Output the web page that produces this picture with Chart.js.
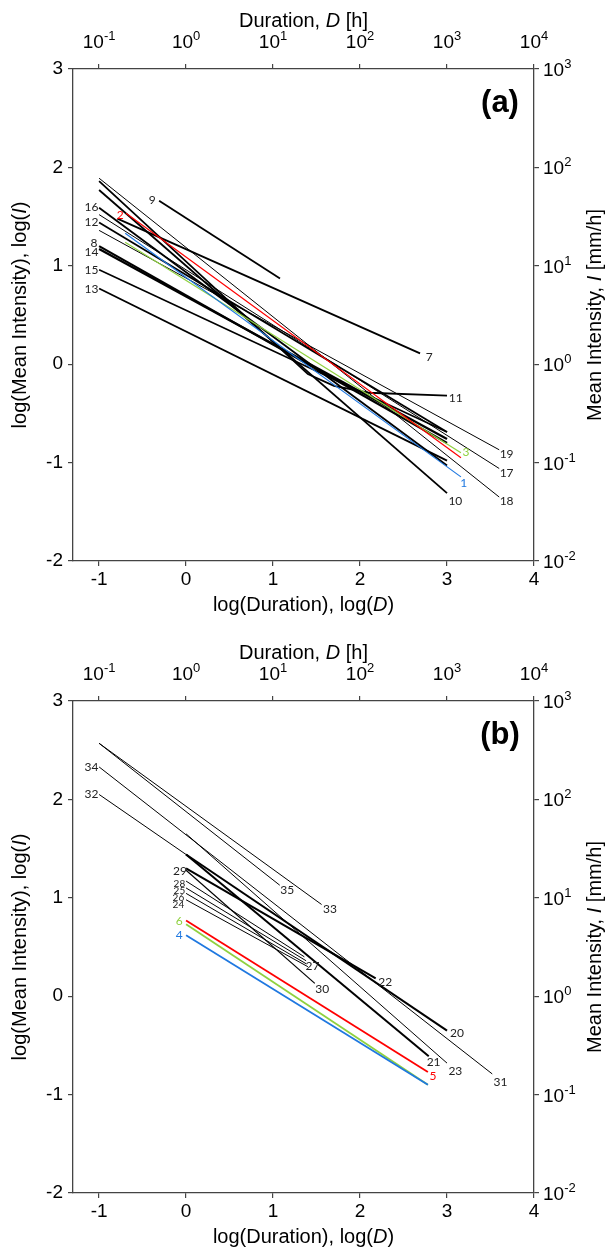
<!DOCTYPE html>
<html>
<head>
<meta charset="utf-8">
<script src="https://cdn.jsdelivr.net/npm/chart.js@4.4.1/dist/chart.umd.min.js"></script>
<style>
  body { margin: 0; background: #fff; }
  canvas { display: block; }
</style>
</head>
<body>
<canvas id="chartA" width="609" height="632"></canvas>
<canvas id="chartB" width="609" height="619"></canvas>
<script>
// tick values, in log10 units (same on both panels)
const xTicks = [-1, 0, 1, 2, 3, 4];
const yTicks = [-2, -1, 0, 1, 2, 3];

// panel (a): each line = log(D) and log(I) at its end points
const aNames = ["1", "2", "3", "7", "8", "9", "10", "11", "12", "13", "14", "15", "16", "17", "18", "19"];
const aX = [[-0.70, 3.16], [-0.69, 3.16], [-0.70, 3.16], [-0.79, 2.69], [-1, 3.0], [-0.31, 1.08],
            [-1, 3.0], [-1, 1.4, 1.7, 2.1, 3.0], [-1, 3.0], [-1, 3.0], [-1, 3.0], [-1, 3.0],
            [-1, 3.0], [-1, 3.6], [-1, 3.6], [-1, 3.6]];
const aY = [[1.33, -1.145], [1.535, -0.95], [1.24, -0.90], [1.48, 0.11], [1.20, -0.80], [1.66, 0.87],
            [1.77, -1.31], [1.86, -0.10, -0.22, -0.29, -0.32], [1.44, -0.69], [0.77, -0.98], [1.17, -0.76], [0.96, -0.69],
            [1.59, -1.03], [1.52, -1.06], [1.89, -1.35], [1.36, -0.87]];
// line number tags of panel (a)
const aTags = ["16", "12", "8", "14", "15", "13", "9", "2", "7", "11", "19", "3", "17", "1", "18", "10"];
const aTagX = [-1.087, -1.087, -1.058, -1.087, -1.087, -1.087, -0.388, -0.758, 2.796, 3.10, 3.685, 3.217, 3.685, 3.193, 3.685, 3.096];
const aTagY = [1.594, 1.441, 1.233, 1.136, 0.958, 0.765, 1.665, 1.518, 0.073, -0.344, -0.914, -0.898, -1.107, -1.209, -1.392, -1.392];

// panel (b)
const bNames = ["4", "5", "6", "20", "21", "22", "23", "24", "25", "26", "28", "30", "31", "32", "33", "35"];
const bX = [[0, 2.78], [0, 2.78], [0, 2.78], [0, 3.0], [0, 2.79], [0, 2.18], [0, 3.0], [0, 1.40],
            [0, 1.38], [0, 1.38], [0, 1.36], [0, 1.48], [-1, 3.52], [-1, 0], [-1, 1.558], [-1, 1.077]];
const bY = [[0.62, -0.90], [0.77, -0.77], [0.73, -0.90], [1.44, -0.35], [1.44, -0.61], [1.30, 0.18], [1.65, -0.68], [0.98, 0.30],
            [1.10, 0.36], [1.045, 0.33], [1.17, 0.40], [1.28, 0.13], [2.33, -0.79], [2.05, 1.44], [2.57, 0.932], [2.57, 1.128]];
const bTags = ["34", "32", "29", "28", "25", "26", "24", "6", "4", "35", "33", "27", "30", "22", "20", "21", "23", "31", "5"];
const bTagX = [-1.087, -1.087, -0.071, -0.077, -0.077, -0.088, -0.088, -0.08, -0.08, 1.163, 1.654, 1.453, 1.565, 2.29, 3.115, 2.846, 3.096, 3.615, 2.84];
const bTagY = [2.33, 2.054, 1.27, 1.14, 1.067, 1.0, 0.925, 0.76, 0.62, 1.075, 0.88, 0.305, 0.076, 0.14, -0.38, -0.67, -0.76, -0.87, -0.81];

// styles
const BLUE = "#1f78e0", RED = "#ff0000", GREEN = "#8fd13f";
const aColors = [BLUE, RED, GREEN].concat(Array(13).fill("#000"));
const aWidths = [1.2, 1.2, 1.2, 1.8, 2.2, 1.8, 1.8, 1.8, 1.8, 1.8, 2.2, 1.6, 1.8, 1, 1, 1];
const aTagColors = aTags.map(t => t === "1" ? BLUE : t === "2" ? RED : t === "3" ? GREEN : "#222");
const bColors = [BLUE, RED, GREEN].concat(Array(13).fill("#000"));
const bWidths = [1.8, 1.8, 1.8, 2, 2, 2, 1, 1, 1, 1, 1, 1.2, 1, 1, 1, 1];
const bTagColors = bTags.map(t => t === "4" ? BLUE : t === "5" ? RED : t === "6" ? GREEN : "#222");
const bTagSmall = ["28", "25", "26", "24"];
const FONT = '"Liberation Sans", Arial, sans-serif';

function richText(ctx, parts, cx, cy, rot) {
  ctx.save();
  ctx.translate(cx, cy);
  ctx.rotate(rot);
  ctx.fillStyle = "#000";
  ctx.textBaseline = "middle";
  ctx.textAlign = "left";
  let w = 0;
  parts.forEach(p => { ctx.font = (p[1] ? "italic " : "") + "20px " + FONT; w += ctx.measureText(p[0]).width; });
  let x = -w / 2;
  parts.forEach(p => {
    ctx.font = (p[1] ? "italic " : "") + "20px " + FONT;
    ctx.fillText(p[0], x, 0);
    x += ctx.measureText(p[0]).width;
  });
  ctx.restore();
}

function power(ctx, exp, x, y, align) {
  ctx.font = "19px " + FONT;
  const wb = ctx.measureText("10").width;
  ctx.font = "13px " + FONT;
  const we = ctx.measureText(exp).width;
  const x0 = align === "center" ? x - (wb + we) / 2 : x;
  ctx.fillStyle = "#000";
  ctx.textAlign = "left";
  ctx.textBaseline = "alphabetic";
  ctx.font = "19px " + FONT;
  ctx.fillText("10", x0, y);
  ctx.font = "13px " + FONT;
  ctx.fillText(exp, x0 + wb, y - 8);
}

const decor = {
  id: "decor",
  afterDraw(chart) {
    const ctx = chart.ctx, ca = chart.chartArea, s = chart.scales, o = chart.options.plugins.decor;
    xTicks.forEach(v => power(ctx, String(v), s.x2.getPixelForValue(v), ca.top - 21, "center"));
    yTicks.forEach(v => power(ctx, String(v), ca.right + 9, s.y2.getPixelForValue(v) + 7, "left"));
    richText(ctx, [["Duration, ", 0], ["D", 1], [" [h]", 0]], (ca.left + ca.right) / 2, 21, 0);
    richText(ctx, [["log(Duration), log(", 0], ["D", 1], [")", 0]], (ca.left + ca.right) / 2, ca.bottom + 44, 0);
    richText(ctx, [["log(Mean Intensity), log(", 0], ["I", 1], [")", 0]], 20, (ca.top + ca.bottom) / 2, -Math.PI / 2);
    richText(ctx, [["Mean Intensity, ", 0], ["I", 1], [" [mm/h]", 0]], 595, (ca.top + ca.bottom) / 2, -Math.PI / 2);
    ctx.save();
    ctx.font = "bold 31px " + FONT;
    ctx.fillStyle = "#000";
    ctx.textAlign = "center";
    ctx.textBaseline = "middle";
    ctx.fillText(o.letter, ca.right - 34, ca.top + 34);
    o.tags.forEach((t, i) => {
      ctx.font = (bTagSmall.includes(t) && o.letter === "(b)" ? "10px" : "12px") + ' Lato, "Open Sans", sans-serif';
      ctx.fillStyle = o.tagColors[i];
      ctx.fillText(t, s.x.getPixelForValue(o.tagX[i]), s.y.getPixelForValue(o.tagY[i]));
    });
    ctx.restore();
  }
};

function axis(pos, min, max, ticks, size, labels) {
  const horiz = pos === "top" || pos === "bottom";
  return {
    type: "linear", position: pos, min: min, max: max,
    afterBuildTicks: sc => { sc.ticks = ticks.map(v => ({ value: v })); },
    afterFit: sc => { if (horiz) sc.height = size; else sc.width = size; },
    grid: { drawOnChartArea: false, drawTicks: true, tickLength: 5, color: "#444", lineWidth: 1.2 },
    border: { display: true, color: "#444", width: 1.3 },
    ticks: {
      autoSkip: false, maxRotation: 0, color: "#000",
      padding: horiz ? 2 : 5,
      font: { family: FONT, size: 19 },
      callback: v => labels ? String(v) : ""
    }
  };
}

function makeChart(id, xs, ys, names, colors, widths, tags, tagX, tagY, tagColors, letter, bottomH) {
  return new Chart(document.getElementById(id), {
    type: "scatter",
    data: {
      datasets: xs.map((xv, i) => ({
        label: names[i],
        data: xv.map((x, j) => ({ x: x, y: ys[i][j] })),
        showLine: true,
        borderColor: colors[i],
        borderWidth: widths[i],
        pointRadius: 0,
        tension: 0,
        fill: false
      }))
    },
    options: {
      responsive: false,
      animation: false,
      layout: { padding: 0 },
      plugins: {
        legend: { display: false },
        tooltip: { enabled: false },
        decor: { letter: letter, tags: tags, tagX: tagX, tagY: tagY, tagColors: tagColors }
      },
      scales: {
        x: axis("bottom", -1.3, 4, xTicks, bottomH, true),
        x2: axis("top", -1.3, 4, xTicks, 69, false),
        y: axis("left", -2, 3, yTicks, 73, true),
        y2: axis("right", -2, 3, yTicks, 75, false)
      }
    },
    plugins: [decor]
  });
}

makeChart("chartA", aX, aY, aNames, aColors, aWidths, aTags, aTagX, aTagY, aTagColors, "(a)", 71);
makeChart("chartB", bX, bY, bNames, bColors, bWidths, bTags, bTagX, bTagY, bTagColors, "(b)", 58);
</script>
</body>
</html>
